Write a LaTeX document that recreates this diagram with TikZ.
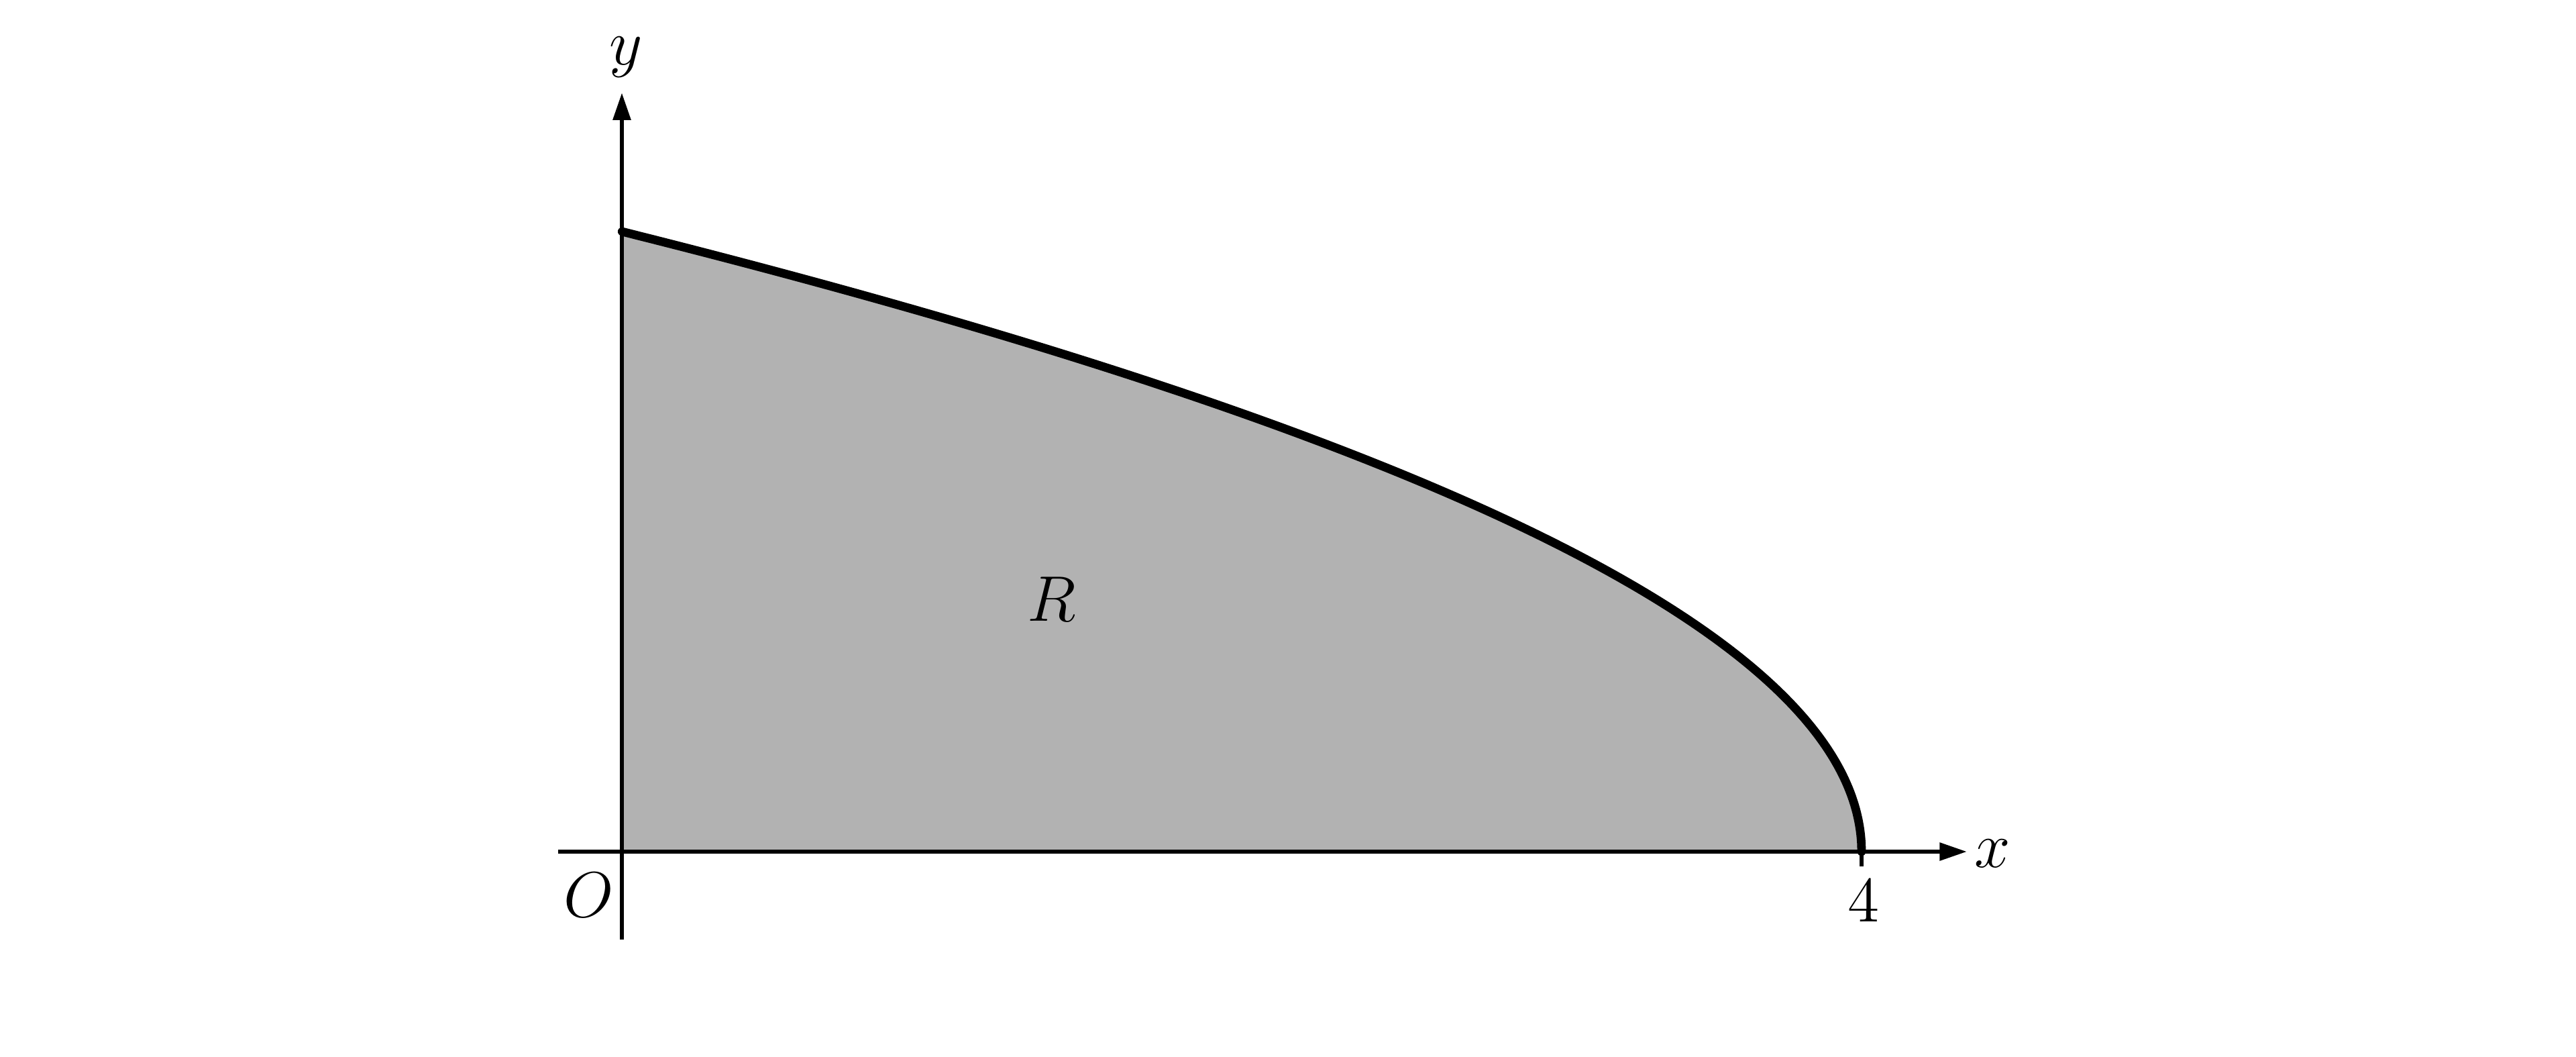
\documentclass[tikz,border=0pt]{standalone}
\usetikzlibrary{arrows.meta}

\definecolor{regiongray}{RGB}{178,178,178}
\tikzset{every picture/.style={line width=0.75pt}}

\begin{document}
\begin{tikzpicture}[x=0.75pt,y=0.75pt,yscale=-1,xscale=1,
    axisline/.style={line width=0.85pt,-{Triangle[length=5.1pt,width=3.2pt]}},
    curveline/.style={line width=1.6pt,line cap=round},
    every node/.style={inner sep=0.75pt,font=\fontsize{11.5}{13}\selectfont}]
        \useasboundingbox (0,0) rectangle (640,262.5);

        %Shape: Region R [id:dp_region]
        \fill[regiongray] (154.5,211.5) -- plot[domain=0:2,samples=80,smooth] ({154.5+77*(4-\x*\x)},{211.5-77*\x}) -- cycle ;
        %Straight Lines [id:da_xaxis]
        \draw[axisline]    (138.7,211.5) -- (488.7,211.5) ;
        %Straight Lines [id:da_yaxis]
        \draw[axisline]    (154.5,233.3) -- (154.5,23) ;
        %Curve Lines [id:da_curve]
        \draw[curveline] plot[domain=0:2,samples=80,smooth] ({154.5+77*(4-\x*\x)},{211.5-77*\x}) ;
        %Straight Lines [id:da_tick]
        \draw[line width=0.85pt]    (462.5,211.5) -- (462.5,215.2) ;

        % Text Node
        \draw (155.5,14.2) node (ylab)  {$y$};
        % Text Node
        \draw (495,212) node (xlab)  {$x$};
        % Text Node
        \draw (146.3,222.2) node (olab)  {$O$};
        % Text Node
        \draw (463,223.8) node (fourlab)  {$4$};
        % Text Node
        \draw (261.2,148.8) node (rlab)  {$R$};

\end{tikzpicture}
\end{document}
